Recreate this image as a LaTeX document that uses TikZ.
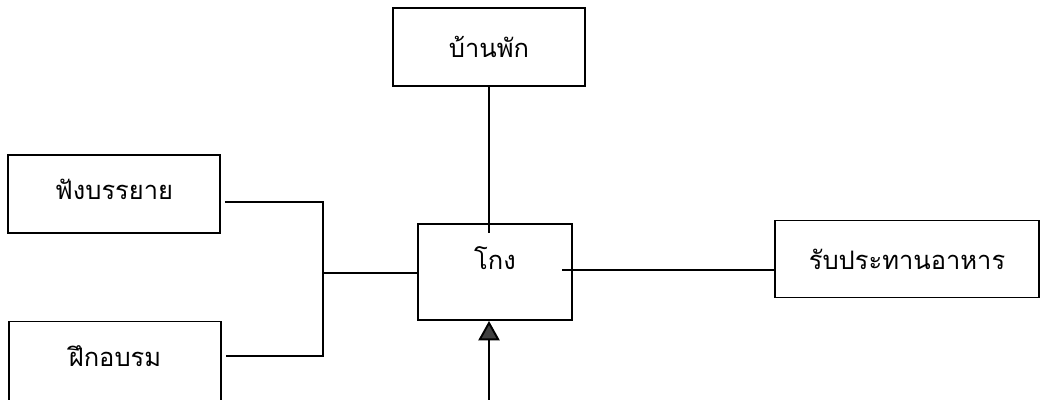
\documentclass[tikz,border=0pt]{standalone}
\usepackage{fontspec}
\newfontfamily\thaifont[Script=Thai]{Loma}
\usetikzlibrary{arrows.meta}

\tikzset{
    box/.style={draw, line width=1.1pt, inner sep=0pt, font=\thaifont\fontsize{14.5}{17}\selectfont},
    link/.style={line width=1.1pt},
}

\begin{document}
\begin{tikzpicture}[x=0.02cm, y=-0.02cm]
    \useasboundingbox (0,0) rectangle (1040,399);
    \clip (0,0) rectangle (1040,399);

    % boxes
    \node[box, minimum width=3.84cm, minimum height=1.56cm] (home) at (489,47) {บ้านพัก};
    \node[box, minimum width=4.24cm, minimum height=1.56cm] (lecture) at (114,194) {\raisebox{5.5pt}{ฟังบรรยาย}};
    \node[box, minimum width=4.24cm, minimum height=1.7cm] (training) at (115,364) {\raisebox{8.5pt}{ฝึกอบรม}};
    \node[box, minimum width=3.08cm, minimum height=1.92cm] (gong) at (495,272) {\raisebox{16pt}{โกง}};
    \node[box, minimum width=5.28cm, minimum height=1.54cm] (meal) at (907,259) {รับประทานอาหาร};

    % meeting points
    \coordinate (fork) at (323,273);
    \coordinate (gtop) at (489,233);
    \coordinate (gright) at (562,270);
    \coordinate (src) at (489,410);

    % links
    \draw[link] (home.south) -- (gtop);
    \draw[link] (gright) -- (gright -| meal.west);
    \draw[link] ([shift={(4,8)}]lecture.east) -| (fork) |- ([shift={(4,-8)}]training.east);
    \draw[link] (fork) -- (fork -| gong.west);

    % input arrow
    \draw[link,-{Triangle[width=12pt,length=11pt,fill=black!75]}] (src) -- (src |- gong.south);
\end{tikzpicture}
\end{document}
